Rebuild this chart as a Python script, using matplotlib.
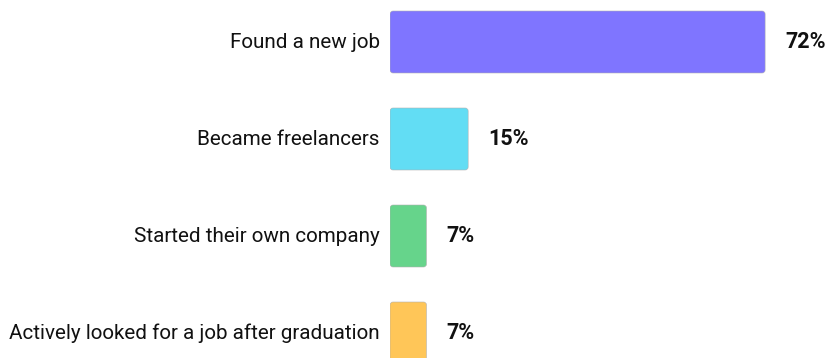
import matplotlib.pyplot as plt
from matplotlib.patches import FancyBboxPatch

plt.rcParams['font.family'] = ['Roboto', 'DejaVu Sans']

outcomes = ['Found a new job', 'Became freelancers',
            'Started their own company', 'Actively looked for a job after graduation']
shares = [72, 15, 7, 7]
colors = ['#7f75ff', '#62ddf4', '#66d48b', '#ffc658']

W, H, DPI = 826, 358, 100
fig = plt.figure(figsize=(W / DPI, H / DPI), dpi=DPI)

# axes start where the bars start; pixel scale: ~5.21 px per percent, 97 px per row
left_px = 390
px_per_pct = 5.21
row_px = 97
first_center = 42
ax = fig.add_axes([left_px / W, 0, 1 - left_px / W, 1])
ax.set_xlim(0, (W - left_px) / px_per_pct)
ax.set_ylim((H - first_center) / row_px, -first_center / row_px)
ax.axis('off')

bar_h = 62 / row_px
bars = ax.barh(range(len(shares)), shares, height=bar_h, color=colors)

# swap plain rectangles for softly rounded ones
r_x = 3 / px_per_pct
aspect = (1 / row_px) / (1 / px_per_pct)
for rect, c in zip(bars.patches, colors):
    rect.set_visible(False)
    ax.add_patch(FancyBboxPatch((rect.get_x(), rect.get_y()), rect.get_width(), rect.get_height(),
                                boxstyle=f'round,pad=0,rounding_size={r_x}',
                                mutation_aspect=aspect, facecolor=c,
                                edgecolor='#b0b0b0', linewidth=0.4))

for i, (name, v) in enumerate(zip(outcomes, shares)):
    ax.annotate(name, xy=(0, i), xytext=(-7.5, 0), textcoords='offset points',
                ha='right', va='center', fontsize=14.9, color='#111111')
    ax.annotate(f'{v}%', xy=(v, i), xytext=(14.5, 0), textcoords='offset points',
                ha='left', va='center', fontsize=15.5, fontweight='bold', color='#111111')

fig.savefig('out.png', dpi=DPI, facecolor='white')
